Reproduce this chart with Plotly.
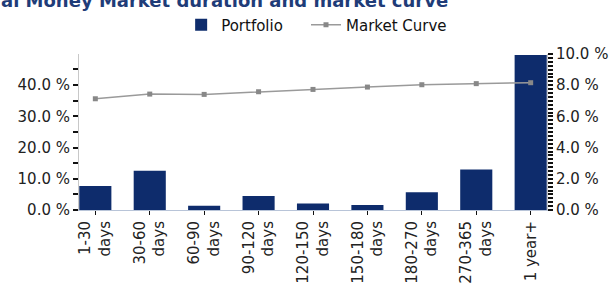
import plotly.graph_objects as go

categories = ["1-30<br>days", "30-60<br>days", "60-90<br>days", "90-120<br>days",
              "120-150<br>days", "150-180<br>days", "180-270<br>days", "270-365<br>days",
              "1 year+"]
portfolio = [7.7, 12.6, 1.4, 4.5, 2.1, 1.6, 5.7, 13.0, 49.6]
market_curve = [7.13, 7.43, 7.41, 7.58, 7.73, 7.88, 8.03, 8.10, 8.16]

FONT = "DejaVu Sans"
NAVY = "#0E2C6C"

fig = go.Figure()
fig.add_trace(go.Bar(
    x=categories, y=portfolio, name="Portfolio",
    marker=dict(color=NAVY, line=dict(width=0)), width=0.59, yaxis="y",
    legend="legend",
))
fig.add_trace(go.Scatter(
    x=categories, y=market_curve, name="Market Curve", yaxis="y2",
    mode="lines+markers",
    line=dict(color="#9A9A9A", width=1.5),
    marker=dict(symbol="square", size=5, color="#888888"),
    legend="legend2",
))

legend_common = dict(orientation="h", xref="container", xanchor="left",
                     y=0.97, yref="container", yanchor="top",
                     font=dict(family=FONT, size=15, color="#111111"),
                     itemwidth=30, bgcolor="rgba(0,0,0,0)")

fig.update_layout(
    width=612, height=286,
    margin=dict(l=79, r=65, t=54, b=76, autoexpand=False),
    paper_bgcolor="white", plot_bgcolor="white",
    font=dict(family=FONT, size=15, color="#222222"),
    showlegend=True,
    legend=dict(x=0.296, **legend_common),
    legend2=dict(x=0.500, **legend_common),
    xaxis=dict(
        range=[-0.3, 8.3], tickangle=-90, automargin=False,
        showline=True, linecolor="#B8C4D8", linewidth=1,
        ticks="outside", ticklen=4, tickcolor="#111111",
        showgrid=False, tickfont=dict(family=FONT, size=15, color="#222222"),
    ),
    yaxis=dict(
        range=[0, 49.95], dtick=10, tickformat=".1f", ticksuffix=" %", automargin=False,
        showline=True, linecolor="#C8C8C8", linewidth=1, mirror=True,
        ticks="outside", ticklen=5, tickcolor="#111111", tickwidth=1.5,
        minor=dict(dtick=5, ticks="outside", ticklen=5, tickcolor="#111111", tickwidth=1.5),
        showgrid=False, zeroline=False,
        tickfont=dict(family=FONT, size=15, color="#222222"),
    ),
    yaxis2=dict(
        range=[0, 10], dtick=2, tickformat=".1f", ticksuffix=" %", automargin=False,
        overlaying="y", side="right", showline=False,
        ticks="outside", ticklen=5, tickcolor="#111111", tickwidth=1.5,
        minor=dict(dtick=0.25, ticks="outside", ticklen=5, tickcolor="#111111", tickwidth=1.5),
        showgrid=False, zeroline=False,
        tickfont=dict(family=FONT, size=15, color="#222222"),
    ),
    annotations=[dict(
        text="<b>al Money Market duration and market curve</b>",
        xref="paper", yref="paper", x=-0.171, y=1.34,
        xanchor="left", yanchor="middle", showarrow=False,
        font=dict(family=FONT, size=18, color="#1F3C78"),
    )],
)

fig.write_html("out.html", config={"displayModeBar": False},
               post_script="document.body.style.margin='0';")
